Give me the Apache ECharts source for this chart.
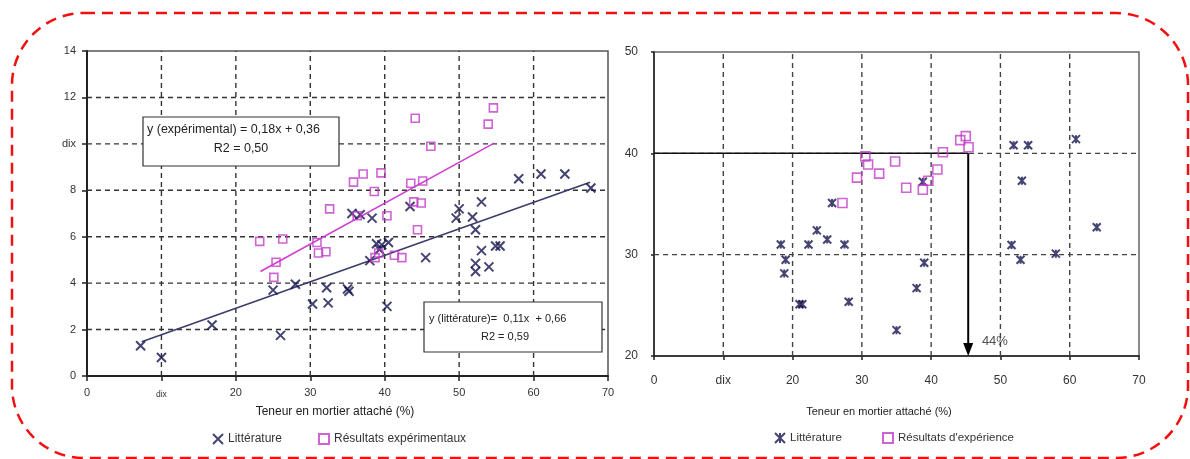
<!DOCTYPE html>
<html><head><meta charset="utf-8">
<script src="https://cdn.jsdelivr.net/npm/echarts@6/dist/echarts.min.js"></script>
<style>html,body{margin:0;padding:0;background:#fff}#c{width:1190px;height:459px}</style>
</head><body><div id="c"></div>
<script>
// ---- tick labels ----
const leftXTicks = ['0','dix','20','30','40','50','60','70'];
const leftYTicks = ['0','2','4','6','8','dix','12','14'];
const rightXTicks = ['0','dix','20','30','40','50','60','70'];
const rightYTicks = ['20','30','40','50'];

// ---- left chart data ----
const leftLit = [[7.2,1.3],[10,0.8],[16.8,2.2],[25,3.7],[26,1.75],[28,3.95],[30.3,3.1],[32.2,3.8],[32.4,3.15],[35,3.75],[35.2,3.65],[35.6,7.0],[36.7,6.95],[38.3,6.8],[38.0,4.97],[38.9,5.7],[39.3,5.45],[39.6,5.65],[40.5,5.75],[40.3,3.0],[43.4,7.3],[45.5,5.1],[49.6,6.8],[50,7.2],[51.8,6.85],[52.2,6.3],[53,7.5],[53,5.4],[54.9,5.6],[55.5,5.6],[52.2,4.85],[52.2,4.5],[54,4.7],[58,8.5],[61,8.7],[64.2,8.7],[67.7,8.1]];
const leftExp = [[23.2,5.8],[25.1,4.25],[25.4,4.9],[26.3,5.9],[30.9,5.75],[31.1,5.3],[32.1,5.35],[32.6,7.2],[36.3,6.9],[35.8,8.35],[37.1,8.7],[38.6,7.95],[39.5,8.75],[38.7,5.1],[39.2,5.3],[40.3,6.9],[41.3,5.2],[42.3,5.1],[43.5,8.3],[45.1,8.4],[43.9,7.5],[44.9,7.45],[44.4,6.3],[44.1,11.1],[46.2,9.9],[53.9,10.85],[54.6,11.55]];
const leftExpTrend = [[23.3,4.5],[54.7,10.03]];
const leftLitTrend = [[7.35,1.48],[67.6,8.35]];
const eqExp = ['y (expérimental) = 0,18x + 0,36', 'R2 = 0,50'];
const eqLit = ['y (littérature)=  0,11x  + 0,66', 'R2 = 0,59'];

// ---- right chart data ----
const rightLit = [[18.3,31.0],[19.0,29.5],[18.8,28.15],[21.0,25.1],[21.4,25.1],[22.3,31.0],[23.5,32.4],[25.0,31.5],[25.7,35.1],[27.5,31.0],[28.1,25.35],[35.0,22.55],[37.9,26.7],[38.8,37.2],[39.0,29.2],[51.6,30.95],[51.9,40.8],[52.9,29.5],[53.1,37.3],[54.0,40.8],[58.0,30.1],[60.9,41.4],[63.9,32.7]];
const rightExp = [[27.2,35.1],[29.3,37.6],[30.5,39.7],[30.9,38.9],[32.5,38.0],[34.8,39.2],[36.4,36.6],[38.8,36.4],[39.6,37.3],[40.9,38.4],[41.7,40.1],[44.2,41.3],[45.0,41.7],[45.4,40.6]];
const thresholdY = 40;
const thresholdX = 45.35;
const thresholdLabel = '44%';
const axisTitle = 'Teneur en mortier attaché (%)';

const NAVY = '#15154f';
const MAG = '#c23cc8';
const FONT = '"Liberation Sans", Arial, sans-serif';
const xSym = 'path://M0,0L10,10M10,0L0,10';
const starSym = 'path://M0,0L10,10M10,0L0,10M5,0L5,10';

const chart = echarts.init(document.getElementById('c'), null, {renderer:'canvas'});

const option = {
  backgroundColor:'#fff',
  animation:false,
  textStyle:{fontFamily:FONT},
  grid:[
    {left:87, top:51, width:521, height:325, show:true, borderColor:'#555', borderWidth:1.5, backgroundColor:'transparent'},
    {left:654, top:52, width:485, height:304, show:true, borderColor:'#666', borderWidth:1.5, backgroundColor:'transparent'}
  ],
  xAxis:[
    {gridIndex:0, type:'value', min:0, max:70, interval:10,
     axisLine:{lineStyle:{color:'#222', width:2}},
     axisTick:{show:true, length:5, lineStyle:{color:'#222', width:1.5}},
     axisLabel:{margin:11, color:'#333', fontSize:11, fontFamily:FONT,
       formatter:v=>{const t=leftXTicks[Math.round(v/10)]; return t==='dix'?'{s|dix}':t;},
       rich:{s:{fontSize:8.5, color:'#333', fontFamily:FONT, padding:[3,0,0,0]}}},
     splitLine:{show:false}
    },
    {gridIndex:1, type:'value', min:0, max:70, interval:10,
     axisLine:{lineStyle:{color:'#222', width:1.5}},
     axisTick:{show:true, length:4, lineStyle:{color:'#222', width:1.5}},
     axisLabel:{margin:19, color:'#333', fontSize:12, fontFamily:FONT,
       formatter:v=>rightXTicks[Math.round(v/10)]},
     splitLine:{show:false}
    }
  ],
  yAxis:[
    {gridIndex:0, type:'value', min:0, max:14, interval:2,
     axisLine:{lineStyle:{color:'#222', width:2}},
     axisTick:{show:true, length:5, lineStyle:{color:'#222', width:1.5}},
     axisLabel:{margin:11, color:'#333', fontSize:11, fontFamily:FONT,
       formatter:v=>leftYTicks[Math.round(v/2)]},
     splitLine:{show:false}
    },
    {gridIndex:1, type:'value', min:20, max:50, interval:10,
     axisLine:{lineStyle:{color:'#222', width:1.5}},
     axisTick:{show:true, length:3, lineStyle:{color:'#222', width:1.5}},
     axisLabel:{margin:16, color:'#333', fontSize:12, fontFamily:FONT,
       formatter:v=>rightYTicks[Math.round((v-20)/10)]},
     splitLine:{show:false}
    }
  ],
  legend:[
    {left:207, top:428, itemWidth:10, itemHeight:10, itemGap:36,
     textStyle:{fontSize:12, color:'#333', fontFamily:FONT},
     data:['Littérature','Résultats expérimentaux']},
    {left:769, top:427, itemWidth:10, itemHeight:10, itemGap:37,
     textStyle:{fontSize:11.5, color:'#333', fontFamily:FONT},
     data:['Littérature ', "Résultats d'expérience"]}
  ],
  series:[],
  graphic:[]
};

// grid lines drawn from tick values (frame edges skipped)
function vLines(xi, yi, ymin, ymax, vals, color){
  return vals.map(v=>({type:'line', xAxisIndex:xi, yAxisIndex:yi, silent:true, symbol:'none', z:1,
    data:[[v,ymin],[v,ymax]], lineStyle:{color:color, width:1.4, type:[5,4]}}));
}
function hLines(xi, yi, xmin, xmax, vals, color){
  return vals.map(v=>({type:'line', xAxisIndex:xi, yAxisIndex:yi, silent:true, symbol:'none', z:1,
    data:[[xmin,v],[xmax,v]], lineStyle:{color:color, width:1.4, type:[5,4]}}));
}
const S = [];
S.push(...vLines(0,0,0,14,[10,20,30,40,50,60],'#333'));
S.push(...hLines(0,0,0,70,[2,4,6,8,10,12],'#333'));
S.push(...vLines(1,1,20,50,[10,20,30,40,50,60],'#444'));
S.push(...hLines(1,1,0,70,[30,40],'#444'));

// left chart
S.push({type:'line', name:'trendLit', xAxisIndex:0, yAxisIndex:0, symbol:'none', silent:true, z:3,
  data:leftLitTrend, lineStyle:{color:'#3c3c6c', width:1.6}});
S.push({type:'line', name:'trendExp', xAxisIndex:0, yAxisIndex:0, symbol:'none', silent:true, z:3,
  data:leftExpTrend, lineStyle:{color:'#d040d0', width:1.6}});
S.push({type:'scatter', name:'Littérature', xAxisIndex:0, yAxisIndex:0, z:4,
  symbol:xSym, symbolSize:9, data:leftLit,
  itemStyle:{color:'rgba(0,0,0,0)', borderColor:NAVY, borderWidth:2}});
S.push({type:'scatter', name:'Résultats expérimentaux', xAxisIndex:0, yAxisIndex:0, z:4,
  symbol:'rect', symbolSize:8, data:leftExp,
  itemStyle:{color:'rgba(0,0,0,0)', borderColor:MAG, borderWidth:1.6}});

// right chart
S.push({type:'line', xAxisIndex:1, yAxisIndex:1, symbol:'none', silent:true, z:3,
  data:[[0,thresholdY],[thresholdX,thresholdY]], lineStyle:{color:'#111', width:1.5}});
S.push({type:'line', xAxisIndex:1, yAxisIndex:1, silent:true, z:3,
  data:[{value:[thresholdX,thresholdY], symbol:'none'},
        {value:[thresholdX,20.64], symbol:'triangle', symbolRotate:180, symbolSize:[10,13]}],
  itemStyle:{color:'#000'}, lineStyle:{color:'#000', width:2}});
S.push({type:'scatter', xAxisIndex:1, yAxisIndex:1, silent:true, z:3, symbolSize:0,
  data:[[49.2,21.4]],
  label:{show:true, position:'inside', formatter:thresholdLabel, fontSize:13, color:'#222', fontFamily:FONT}});
S.push({type:'scatter', name:'Littérature ', xAxisIndex:1, yAxisIndex:1, z:4,
  symbol:starSym, symbolSize:8, data:rightLit,
  itemStyle:{color:'rgba(0,0,0,0)', borderColor:NAVY, borderWidth:2}});
S.push({type:'scatter', name:"Résultats d'expérience", xAxisIndex:1, yAxisIndex:1, z:4,
  symbol:'rect', symbolSize:9, data:rightExp,
  itemStyle:{color:'rgba(0,0,0,0)', borderColor:MAG, borderWidth:1.6}});
option.series = S;

option.graphic = [
  {type:'rect', shape:{x:12, y:13, width:1176, height:445, r:72},
   style:{fill:'none', stroke:'#f01010', lineWidth:2.5, lineDash:[11,7]}, z:0, silent:true},
  // equation boxes
  {type:'rect', shape:{x:143, y:117, width:196, height:49}, style:{fill:'#fff', stroke:'#333', lineWidth:1.2}, z:10},
  {type:'text', x:147, y:130, style:{text:eqExp[0], font:'12.5px '+FONT, fill:'#222', textVerticalAlign:'middle'}, z:11},
  {type:'text', x:241, y:149, style:{text:eqExp[1], font:'12.5px '+FONT, fill:'#222', textAlign:'center', textVerticalAlign:'middle'}, z:11},
  {type:'rect', shape:{x:424, y:302, width:178, height:50}, style:{fill:'#fff', stroke:'#333', lineWidth:1.2}, z:10},
  {type:'text', x:429, y:319, style:{text:eqLit[0], font:'11px '+FONT, fill:'#222', textVerticalAlign:'middle'}, z:11},
  {type:'text', x:505, y:337, style:{text:eqLit[1], font:'11px '+FONT, fill:'#222', textAlign:'center', textVerticalAlign:'middle'}, z:11},
  // axis titles
  {type:'text', x:335, y:412, style:{text:axisTitle, font:'12px '+FONT, fill:'#222', textAlign:'center', textVerticalAlign:'middle'}},
  {type:'text', x:879, y:412, style:{text:axisTitle, font:'11px '+FONT, fill:'#222', textAlign:'center', textVerticalAlign:'middle'}}
];

chart.setOption(option);
</script></body></html>
